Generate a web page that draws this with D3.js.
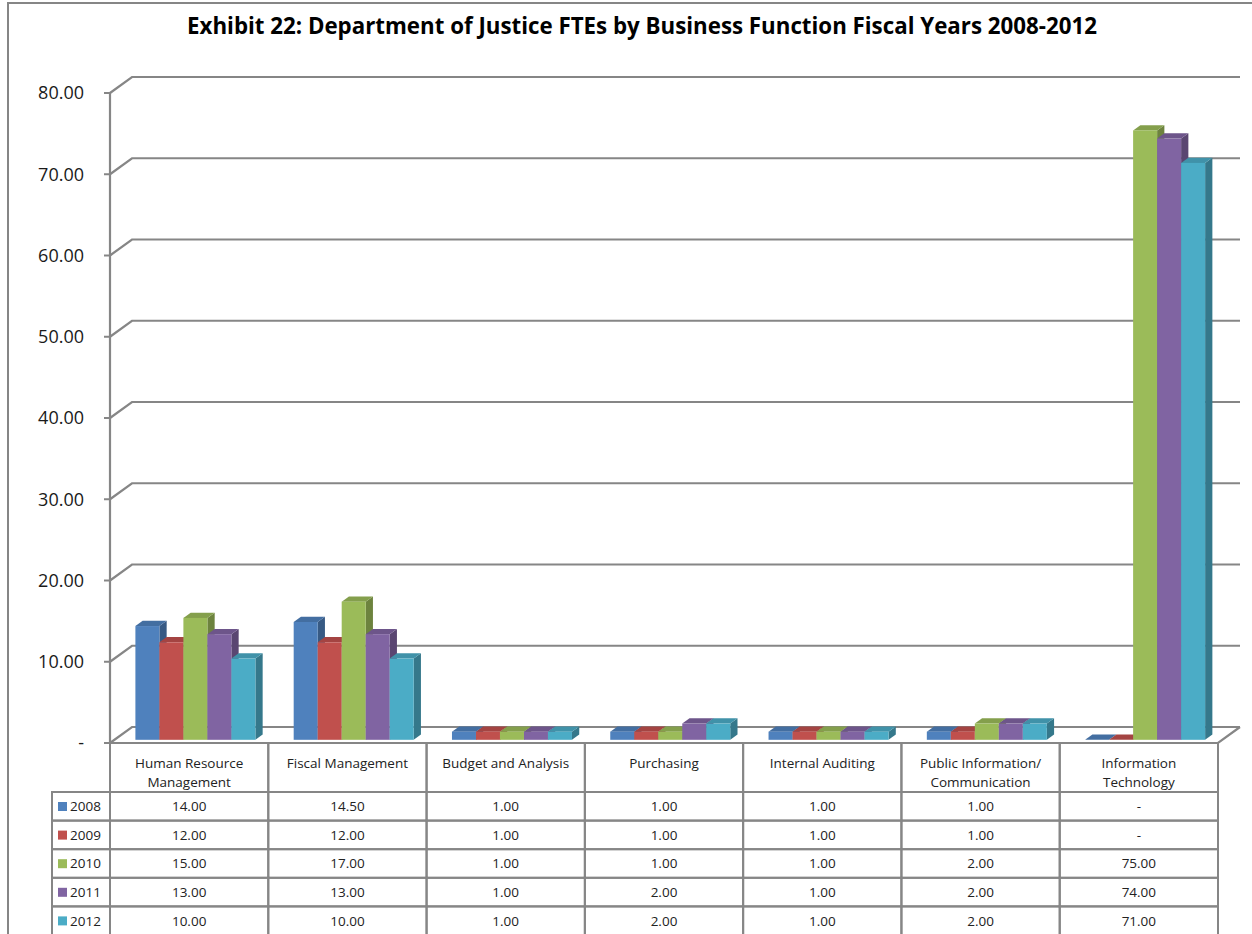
<!DOCTYPE html>
<html><head><meta charset="utf-8">
<script src="https://cdn.jsdelivr.net/npm/d3@7"></script>
<style>body{margin:0;background:#fff}svg{display:block}</style>
</head><body>
<svg id="chart" width="1252" height="934"></svg>
<script>
const categories = ["Human Resource|Management","Fiscal Management","Budget and Analysis","Purchasing","Internal Auditing","Public Information/|Communication","Information|Technology"];
const years = ["2008","2009","2010","2011","2012"];
const v2008 = [14, 14.5, 1, 1, 1, 1, 0];
const v2009 = [12, 12, 1, 1, 1, 1, 0];
const v2010 = [15, 17, 1, 1, 1, 2, 75];
const v2011 = [13, 13, 1, 2, 1, 2, 74];
const v2012 = [10, 10, 1, 2, 1, 2, 71];
const seriesValues = [v2008, v2009, v2010, v2011, v2012];
const colors = ["#4F81BD","#C0504D","#9BBB59","#8064A2","#4BACC6"];
const yTicks = [0,10,20,30,40,50,60,70,80];

const svg = d3.select("#chart");
const FONT = "'Open Sans', 'Noto Sans', sans-serif";
const GRID = "#868686";
const DX = 22, DY = -16;

svg.append("rect").attr("width",1252).attr("height",934).attr("fill","#fff");
svg.append("path").attr("d","M8,934 L8,3 L1252,3").attr("fill","none").attr("stroke",GRID).attr("stroke-width",2);

svg.append("text").attr("x",642).attr("y",34).attr("text-anchor","middle")
  .attr("font-family",FONT).attr("font-weight","bold").attr("font-size",22.3).attr("fill","#000")
  .text("Exhibit 22: Department of Justice FTEs by Business Function Fiscal Years 2008-2012");

const x = d3.scaleBand().domain(categories).range([110,1218]);
const y = d3.scaleLinear().domain([0,80]).range([743,93]);
const bw = x.bandwidth();

const gridG = svg.append("g");
yTicks.forEach(t => {
  gridG.append("path")
    .attr("d", `M110,${y(t)} L${110+DX},${y(t)+DY} L${1218+DX},${y(t)+DY}`)
    .attr("fill","none").attr("stroke",GRID).attr("stroke-width",2.2);
  gridG.append("line").attr("x1",104).attr("x2",110).attr("y1",y(t)).attr("y2",y(t))
    .attr("stroke",GRID).attr("stroke-width",2);
});
gridG.append("path").attr("d",`M110,${y(0)} L1218,${y(0)} L${1218+DX},${y(0)+DY}`)
  .attr("fill","none").attr("stroke",GRID).attr("stroke-width",2.2);
gridG.append("line").attr("x1",110).attr("x2",110).attr("y1",y(80)).attr("y2",y(0))
  .attr("stroke",GRID).attr("stroke-width",2.2);

svg.append("g").selectAll("text").data(yTicks).join("text")
  .attr("x",84).attr("y",d=>y(d)).attr("dy","0.36em").attr("text-anchor","end")
  .attr("font-family",FONT).attr("font-size",18).attr("fill","#1a1a1a")
  .text(d => d===0 ? "-" : d3.format(".2f")(d));

const FD = 0.2, BD = 0.33, W = 24, PAD = 21;
const fdx = FD*DX, fdy = FD*DY, bdx = BD*DX, bdy = BD*DY;
const barG = svg.append("g");
categories.forEach((c, ci) => {
  years.forEach((yr, si) => {
    const v = seriesValues[si][ci];
    const base = d3.color(colors[si]);
    const x0 = x(c) + PAD + si*W + fdx;
    const yT = y(v) + fdy, yB = y(0) + fdy;
    const g = barG.append("g");
    g.append("polygon").attr("points",[[x0+W,yT],[x0+W+bdx,yT+bdy],[x0+W+bdx,yB+bdy],[x0+W,yB]].join(" "))
      .attr("fill", base.darker(1.0));
    g.append("polygon").attr("points",[[x0,yT],[x0+W,yT],[x0+W+bdx,yT+bdy],[x0+bdx,yT+bdy]].join(" "))
      .attr("fill", base.darker(0.45));
    if (v > 0) g.append("rect").attr("x",x0).attr("y",yT).attr("width",W).attr("height",yB-yT).attr("fill",base);
  });
});

const tbl = svg.append("g");
const hTop = 743, hBot = 792, rowH = 28.6;
const lineAttr = s => s.attr("stroke",GRID).attr("stroke-width",2).attr("fill","none");
categories.forEach(c => {
  lineAttr(tbl.append("rect").attr("x",x(c)).attr("y",hTop).attr("width",bw).attr("height",hBot-hTop));
  c.split("|").forEach((ln, li) => {
    tbl.append("text").attr("x",x(c)+bw/2).attr("y",768+li*18.5).attr("text-anchor","middle")
      .attr("font-family",FONT).attr("font-size",13.5).attr("fill","#222").text(ln);
  });
});
years.forEach((yr, si) => {
  const ry = hBot + si*rowH;
  lineAttr(tbl.append("rect").attr("x",52).attr("y",ry).attr("width",110-52).attr("height",rowH));
  tbl.append("rect").attr("x",58).attr("y",ry+10).attr("width",9).attr("height",9).attr("fill",colors[si]);
  tbl.append("text").attr("x",70).attr("y",ry+rowH/2).attr("dy","0.36em")
    .attr("font-family",FONT).attr("font-size",13.5).attr("fill","#222").text(yr);
  categories.forEach((c, ci) => {
    lineAttr(tbl.append("rect").attr("x",x(c)).attr("y",ry).attr("width",bw).attr("height",rowH));
    const v = seriesValues[si][ci];
    tbl.append("text").attr("x",x(c)+bw/2).attr("y",ry+rowH/2).attr("dy","0.36em").attr("text-anchor","middle")
      .attr("font-family",FONT).attr("font-size",13.5).attr("fill","#222")
      .text(v===0 ? "-" : d3.format(".2f")(v));
  });
});
</script>
</body></html>
